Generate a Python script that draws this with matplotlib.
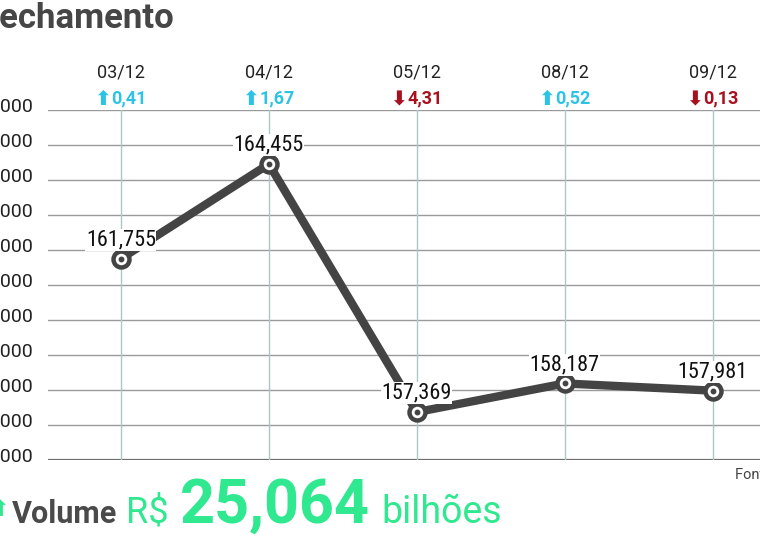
import numpy as np
import matplotlib
matplotlib.use("Agg")
import matplotlib.pyplot as plt
from matplotlib import font_manager
from matplotlib.transforms import ScaledTranslation

# data
dates = ["03/12", "04/12", "05/12", "08/12", "09/12"]
closing = [161.755, 164.455, 157.369, 158.187, 157.981]
closing_labels = ["161,755", "164,455", "157,369", "158,187", "157,981"]
changes = ["0,41", "1,67", "4,31", "0,52", "0,13"]
directions = ["up", "up", "down", "up", "down"]
yticks = [156, 157, 158, 159, 160, 161, 162, 163, 164, 165, 166]
ytick_labels = ["156,000", "157,000", "158,000", "159,000", "160,000", "161,000",
                "162,000", "163,000", "164,000", "165,000", "166,000"]
volume = "25,064"


def pick_font(cands, default):
    names = {f.name for f in font_manager.fontManager.ttflist}
    for c in cands:
        if c in names:
            return c, True
    return default, False


narrow, found = pick_font(["Roboto Condensed", "Liberation Sans Narrow",
                           "DejaVu Sans Condensed"], "Roboto")
label_size = 16 if found else 14.5
plt.rcParams["font.family"] = ["Roboto", "DejaVu Sans"]

W, H = 760, 541
fig = plt.figure(figsize=(W / 100, H / 100), dpi=100)
fig.patch.set_facecolor("white")


def fx(px):
    return px / W


def fy(py):
    return 1 - py / H


ax = fig.add_axes([fx(48), fy(460), 1 - fx(48), fy(110) - fy(460)])
x = np.arange(len(dates))
ax.set_xlim(-0.493, 4.32)
ax.set_ylim(156, 166)

# grid
for yv in yticks[1:]:
    ax.axhline(yv, color="#9a9a9a", lw=1, zorder=1)
ax.axhline(yticks[0], color="#6f6f6f", lw=1.6, zorder=1)
for xv in x:
    ax.axvline(xv, color="#aac8c4", lw=1, zorder=1)

ax.plot(x, closing, color="#444444", lw=6, solid_joinstyle="round",
        solid_capstyle="round", zorder=3)
ax.plot(x, closing, "o", ms=11.5, mfc="white", mec="#444444", mew=3.2, zorder=4)
ax.plot(x, closing, "o", ms=3.2, color="#444444", zorder=5)

for xi, yv, lab in zip(x, closing, closing_labels):
    ax.annotate(lab, (xi, yv), xytext=(0, 6), textcoords="offset points",
                ha="center", va="bottom", fontsize=label_size, family=narrow,
                color="#111111", zorder=6,
                bbox=dict(boxstyle="square,pad=0.02", fc="white", ec="none"))

tr = ax.get_xaxis_transform()
fig.canvas.draw()
renderer = fig.canvas.get_renderer()
for xi, d, ch, dr in zip(x, dates, changes, directions):
    ax.text(xi, 1.106, d, transform=tr, ha="center", va="center",
            fontsize=13, color="#222222")
    col = "#2cc3e6" if dr == "up" else "#a8101f"
    arrow = "\u2b06" if dr == "up" else "\u2b07"
    num = ax.text(xi, 1.034, ch, transform=tr, ha="center", va="center",
                  fontsize=13, fontweight="bold", color=col)
    num.set_transform(tr + ScaledTranslation(8 / 100, 0, fig.dpi_scale_trans))
    wpx = num.get_window_extent(renderer).width
    ax.text(xi, 1.030, arrow, transform=tr + ScaledTranslation(
            (8 - wpx / 2 + 1) / 100, 0, fig.dpi_scale_trans),
            ha="right", va="center", fontsize=14.5, fontweight="bold",
            color=col, family="DejaVu Sans")

ax.set_yticks(yticks)
ax.set_yticklabels(ytick_labels)
ax.tick_params(axis="y", length=0, pad=11, labelsize=14, labelcolor="#222222")
for t in ax.get_yticklabels():
    t.set_transform(t.get_transform() + ScaledTranslation(0, 6 / 100, fig.dpi_scale_trans))
ax.set_xticks([])
for s in ax.spines.values():
    s.set_visible(False)

# title and footer texts
fig.text(fx(-19), fy(19), "Fechamento", fontsize=25, fontweight="bold",
         color="#464646", va="center", ha="left")
fig.text(fx(735), fy(475), "Fonte: B3", fontsize=10.5, color="#444444",
         va="center", ha="left")

green = "#2fe88f"
fig.text(fx(0), fy(510), "\u2b06", fontsize=16, color=green,
         ha="center", va="center", family="DejaVu Sans")
fig.text(fx(12), fy(523), "Volume", fontsize=22, fontweight="bold",
         color="#4a4a4a", va="baseline", ha="left")
fig.text(fx(126), fy(523), "R$", fontsize=26, color=green,
         va="baseline", ha="left")
fig.text(fx(180), fy(523), volume, fontsize=44, fontweight="bold", color=green,
         va="baseline", ha="left")
fig.text(fx(381), fy(523), "bilh\u00f5es", fontsize=27, color=green,
         va="baseline", ha="left")

fig.savefig("out.png", dpi=100)
